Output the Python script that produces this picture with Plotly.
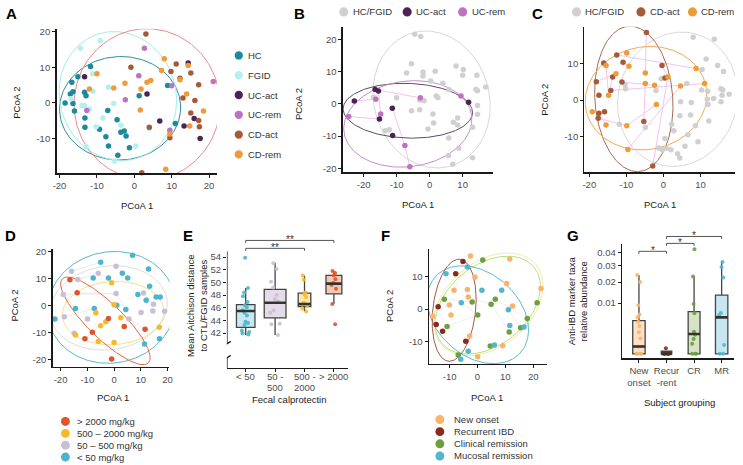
import numpy as np
import plotly.graph_objects as go

W, H = 743, 465
FONT = "Liberation Sans, Arial, Helvetica, sans-serif"
AX = "#1a1a1a"
TICKC = "#4d4d4d"

# ------------------------------------------------------------------ data
# Panel A (PCoA, all groups)
A_HC_x = [-18.5, -17.1, -16.4, -16.7, -15.1, -16.4, -16.0, -13.3, -12.9, -11.7, -13.2, -13.2, -7.1, -9.3, -7.6, -6.9, -4.6, -3.6, -2.7, -2.2, -1.3, -4.4, 1.3, 8.9, 11.0]
A_HC_y = [0.0, 2.5, 3.1, 5.8, 7.3, -0.2, -2.3, 3.0, 2.0, 10.2, -4.2, -6.8, -2.1, -7.4, -9.5, -12.1, -4.7, -8.2, -7.9, -9.3, -12.6, -14.7, 2.0, 4.9, -5.8]
A_FGID_x = [-14.4, -9.1, -11.1, -16.9, -14.0, -13.3, -12.0, -11.1, -6.9, -5.5, -8.4, -10.2, -3.6, -12.9, 0.4, -5.3, 4.0]
A_FGID_y = [15.3, 17.4, 8.2, 1.2, -0.7, -0.7, -1.7, 3.3, 4.4, -0.2, -4.2, -6.7, -6.3, -12.3, -12.1, -16.3, -7.2]
A_UCact_x = [-13.3, 3.4, 6.8, 14.4, 13.3, 16.0, 17.6]
A_UCact_y = [7.3, 2.5, -5.1, 11.2, -6.5, -4.4, -10.0]
A_UCrem_x = [2.7, 1.2, -2.4, -12.7, 10.0, 9.5, 21.1]
A_UCrem_y = [15.3, 7.6, 0.9, -2.1, 4.8, -7.7, 6.0]
A_CDact_x = [3.1, -0.9, 9.8, 11.2, 12.2, 15.1, 17.2, 16.2, 13.0, 15.1, 17.2, 17.4, 9.5, 4.0, 2.0]
A_CDact_y = [19.3, 10.0, 8.8, 10.9, 6.9, 8.4, 5.1, 0.7, 1.4, -2.8, -4.9, -6.7, -9.8, -6.8, -19.6]
A_CDrem_x = [8.0, 7.3, 12.2, 4.4, 3.4, -2.5, -5.5, -12.0, -10.0, 1.8, 14.0, 1.6, 18.5, 14.8, 9.5, 8.4, 14.4]
A_CDrem_y = [12.4, 9.1, 6.5, 6.3, 5.8, 5.5, 4.2, 3.9, 8.2, 3.9, 2.5, -2.0, -2.3, -6.5, -8.7, -18.6, 10.5]
A_groups = ["HC", "FGID", "UC-act", "UC-rem", "CD-act", "CD-rem"]
# ellipses: centre x, centre y, semi-axis a, semi-axis b, angle (deg)
A_ell = [(-3.8, -1.5, 16.2, 14.5, 4), (-4.4, 1.9, 15.6, 18.2, 12), (3.4, -0.4, 19.5, 21.2, 0)]

# Panel B (UC)
B_grey_x = [-4.5, -2.7, -5.5, -7, -2, -2, 1.7, 0.3, 8, 10.2, 10, 14.3, 14.5, 14, 17, 4, 5.8, 2, 2.5, -3, -1.7, -10, -17, -5.5, -3, 1, 14.5, 14.5, -13.5, -12.2, -0.5, 1.2, 7.2, 8.5, 8.5, 5.8, 13, 8.8, 5.7, 7, 13]
B_grey_y = [21.7, 21.0, 12.5, 9.6, 9.9, 8.7, 10.2, 7.1, 11.8, 10.7, 8.9, 8.9, 4.1, 4.5, 5.3, 6.4, 4.5, 2.5, 1.9, 1.2, 1.0, 1.9, 2.1, -2.1, -1.8, -3.1, -3.2, -0.5, -8.3, -8.0, -7.8, -5.9, -5.7, -4.4, -6.5, -10.6, -7.2, -13.8, -16, -18.7, -16.7]
B_UCact_x = [-22.8, -16.5, -15.5, -15.2, -11.3, -11.2, 11.8]
B_UCact_y = [0.9, 4.5, 4.0, -4.7, -1.3, -9.8, 0.5]
B_UCrem_x = [-24.5, -16.3, -14.8, -7.5, -6.0, -2.8, 9.5]
B_UCrem_y = [-3.9, 1.5, -3.1, -12.9, -19.5, 1.9, 2.5]
B_links = [((-22.8, 0.9), (-16.3, 1.5)), ((-24.5, -3.9), (-15.2, -4.7)), ((-16.5, 4.5), (-2.8, 1.9)),
           ((-11.3, -1.3), (-7.5, -12.9)), ((-7.5, -12.9), (-6.0, -19.5)), ((-15.5, 4.0), (-14.8, -3.1)),
           ((11.8, 0.5), (9.5, 2.5)), ((-16.3, 1.5), (-15.5, 4.0))]
B_ell = [(0.6, 1.4, 17.5, 21.5, 14), (-6.6, -2.1, 19.6, 8.5, -2), (-6.6, -6.2, 19.5, 13.3, 8)]

# Panel C (CD)
C_CDact_x = [-4.6, -12.6, -16.1, -10.9, -18.1, -13.7, -11.2, -14.2, -17.4, -17.4, -15.9, -17.6, -5.3, -0.4, 0.4, -2.9]
C_CDact_y = [18.4, 12.3, 10.1, 10.3, 5.0, 6.3, 4.9, 2.6, 1.3, -3.6, -3.2, -5.0, -5.9, 9.4, 6.0, -18.0]
C_CDrem_x = [-9.9, -15.5, -12.8, -9.3, -4.9, -4.9, -2.4, 1.2, 8.8, 11.1, 4.6, -14.8, -19.2, -15.5, -9.9, -1.9, -9.6]
C_CDrem_y = [12.8, 9.4, 7.2, 9.2, 7.4, 4.5, 4.0, 6.3, 8.6, 4.5, 3.8, 1.3, -3.2, -6.8, -7.0, -1.2, -13.5]
C_grey_x = [8, 13.7, 11.5, 14.6, 16.2, 10.4, 6.3, 10.3, 11.9, 15.5, 16, 15.8, 17.7, 13.5, 11.8, 12.0, 15.5, 4.6, 7.5, 4.4, 7.3, 8.6, 12.2, 2.2, 2.8, 6.6, 5.8, 3.8, 4.4, 0.4, -1.3, -0.3, 0.7, 2.0, 9.3, -11.9, -4.9, -10.4, -10.2, -2.0, -0.6]
C_grey_y = [17.1, 16.6, 11.2, 9.4, 7.8, 8.3, 4.5, 2.7, 2.4, 3.1, 2.7, 1.3, 1.6, 0.4, 0.2, -1.2, -0.5, -0.5, -0.7, -4.3, -4.1, -7.0, -5.7, -6.6, -8.4, -9.5, -12.6, -14.7, -15.8, -10.5, -13.1, -13.6, -13.2, -13.6, -11.4, -6.6, -7.5, 4.2, 3.1, 2.6, 5.8]
C_links = [((-4.6, 18.4), (-4.9, 7.4)), ((-4.9, 4.5), (-5.3, -5.9)), ((-12.6, 12.3), (8.8, 8.6)),
           ((-14.2, 2.6), (11.1, 4.5)), ((-2.9, -18.0), (1.2, 6.3)), ((-1.9, -1.2), (-9.9, -7.0)),
           ((-17.4, -3.6), (-15.5, -6.8)), ((4.6, 3.8), (-9.6, -13.5)), ((-11.2, 4.9), (-2.4, 4.0)),
           ((-0.4, 9.4), (1.2, 6.3)), ((-16.1, 10.1), (-15.5, 9.4)), ((-15.5, 9.4), (-14.8, 1.3)),
           ((-17.6, -5.0), (-9.9, -7.0)), ((-18.1, 5.0), (-12.8, 7.2)), ((-10.9, 10.3), (-9.3, 9.2)),
           ((-14.8, 1.3), (-13.7, 6.3))]
C_ell = [(3.8, 0.2, 16.0, 18.5, -15), (-8.0, 0.3, 10.5, 19.9, 4), (-4.7, 0.5, 16.5, 14.0, 12)]

# Panel D (calprotectin groups)
D_labels = ["> 2000 mg/kg", "500 \u2013 2000 mg/kg", "50 \u2013 500 mg/kg", "< 50 mg/kg"]
D_hi_x = [-16.5, -13.8, -2.1, -8.1, -10.9, 3.8, 11.6, -0.9]
D_hi_y = [9.4, 4.6, -4.9, -10, -12.4, -7.9, -8.9, -19.9]
D_mid_x = [-0.9, 0, -6.8, -5, -3.1, 2.5, -14.4, -5.9, 0, 16.9]
D_mid_y = [8.3, 0.2, -2.8, -7.6, -6.1, -4.6, -11, -13.4, -13.8, -8.2]
D_low_x = [-15.9, -13.6, -5.9, 0.75, -19, 0.75, -18.6, -9.9, 5.6, 11, 10.1, 14.75, 14.5, 18.9, -14.9]
D_low_y = [12.6, 9.5, 11.8, 14.4, 4, 4.3, -4.3, -5.1, -5.1, 4.5, -2.7, 0.4, -2.1, -2.2, -10.4]
D_vlow_x = [-5, 6.9, 12.9, -7.8, -2.1, 3.1, 5.1, 13.3, 8.9, 12.0, 15.75, 17.25, 1, 4.4, -14.4, -7.4, -22.1, 11.4, 17]
D_vlow_y = [15.9, 18.5, 13.4, 10.1, 10.1, 11.8, 10.1, 7.0, 4.0, 1.8, 3.0, 3.0, 0, -1.6, -1.2, -1.2, -5.1, -14.4, -12.4]
D_links = [((-13.8, 4.6), (0.75, 4.3)), ((0.75, 4.3), (4.4, -1.6)), ((-18.6, -4.3), (-7.4, -1.2)),
           ((-15.9, 12.6), (-5.0, 15.9)), ((5.6, -5.1), (11.6, -8.9)), ((-19, 4), (-14.4, -1.2)),
           ((0.75, 14.4), (3.1, 11.8)), ((-10.9, -12.4), (-2.1, -4.9)), ((11, 4.5), (14.75, 0.4)),
           ((-13.6, 9.5), (-5.9, 11.8)), ((-9.9, -5.1), (-6.8, -2.8)), ((-19, 4), (0.75, 4.3))]
D_ell = [(-1.0, -0.8, 24.0, 20.6, 10), (-2.0, -1.0, 22.0, 15.5, 8), (-0.35, -2.9, 19.0, 11.7, 3), (-3.25, -5.8, 22.4, 6.5, -44)]

# Panel E (boxplots, mean Aitchison distance)
E_cats = ["&lt; 50", "50 -<br>500", "500 -<br>2000", "&gt; 2000"]
E_q1 = [42.9, 44.4, 46.2, 48.2]
E_med = [45.5, 46.8, 46.6, 49.8]
E_q3 = [46.5, 48.9, 48.3, 51.1]
E_lo = [41.7, 41.7, 45.4, 46.6]
E_hi = [49.1, 53.1, 51.1, 51.8]
E_width = [0.63, 0.74, 0.43, 0.54]
E_pts = [
    [53.9, 49.1, 48.4, 47.8, 46.9, 46.4, 46.1, 45.6, 45.2, 44.8, 43.8, 43.6, 43.3, 42.4, 42.2, 42.0, 41.8],
    [53.0, 52.1, 50.1, 49.2, 48.0, 47.4, 47.0, 45.6, 45.2, 43.5, 43.4, 41.7],
    [51.1, 50.4, 48.4, 48.1, 47.7, 46.8, 46.5, 46.3, 45.9, 45.4],
    [51.8, 51.5, 51.1, 50.5, 49.9, 49.6, 49.0, 46.6, 43.4],
]

# Panel F (disease course)
F_labels = ["New onset", "Recurrent IBD", "Clinical remission", "Mucosal remission"]
F_new_x = [-2.5, 11.6, -0.9, -8.4, -3.6, -3.3, -10.1, -9.5, -16, 10.5, 12.6, 22.8, -2.8, 9.1, 0.1]
F_new_y = [16.5, 15.6, 9.9, 5.9, 6.1, 3.8, 1.3, -1.8, -2.2, 8.0, 1.0, 6.4, -8.4, -11.4, -14.8]
F_rec_x = [-5.2, -7.8, -14.1, -14.8, -12.5, -4.2]
F_rec_y = [14.8, 11.0, 0.7, -4.8, -6.9, -10]
F_cr_x = [1.9, -11.9, -1.9, 0.1, 6.4, 4.9, -10.9, 11.4, 15.5, 17.9, 21.4, 4.6, -6.9]
F_cr_y = [15.3, 3.1, 2.2, -1.8, 3.1, 1.5, -5.4, -7.1, -5.8, -2.9, 2.0, -11.5, -14.3]
F_mr_x = [-3.6, -11.3, 1.6, 8.7, -5.8, 11.1, 11.6, 16.7, 6.1, -3.3, -6]
F_mr_y = [13.1, 11.0, 5.9, 5.9, 2.0, -0.2, -5.1, -5.6, -11.2, -13.1, -15.6]
F_links = [((-2.5, 16.5), (-8.4, 5.9)), ((1.9, 15.3), (-0.9, 9.9)), ((-11.9, 3.1), (-1.9, 2.2)),
           ((6.4, 3.1), (17.9, -2.9)), ((4.9, 1.5), (11.4, -7.1)), ((-10.9, -5.4), (0.1, -1.8)),
           ((8.7, 5.9), (10.5, 8.0)), ((-3.3, 3.8), (4.9, 1.5)), ((-16, -2.2), (-14.1, 0.7)),
           ((-5.8, 2.0), (0.1, -1.8)), ((11.1, -0.2), (15.5, -5.8))]
F_ell = [(3.9, 1.5, 21.2, 13.8, 30), (3.7, 1.25, 20.5, 13.0, 30), (0.15, -1.75, 19.5, 13.5, -30), (-8.35, -0.35, 7.65, 16.0, -8)]

# Panel G (anti-IBD marker taxa, sqrt scale)
G_cats = ["New<br>onset", "Recur<br>-rent", "CR", "MR"]
G_q1 = [0.0, 0.0, 0.0, 0.0]
G_med = [0.00021, 0.0, 0.00154, 0.00517]
G_q3 = [0.00427, 0.00003, 0.00689, 0.01338]
G_lo = [0.0, 0.0, 0.0, 0.0]
G_hi = [0.0242, 0.00003, 0.0232, 0.0335]
G_width = [0.45, 0.38, 0.43, 0.45]
G_pts = [
    [0.0242, 0.0200, 0.0092, 0.0060, 0.0052, 0.0040, 0.0030, 0.0018, 0.0009, 0.0002, 0, 0, 0, 0],
    [0.00012, 0, 0, 0, 0],
    [0.0424, 0.0232, 0.0096, 0.0064, 0.0019, 0.0014, 0.00086, 0.0004, 0, 0, 0],
    [0.0328, 0.0293, 0.0226, 0.0065, 0.0058, 0.0003, 0, 0],
]
G_ticks = [0.01, 0.02, 0.03, 0.04]

# ------------------------------------------------------------------ styles
C_HC, C_FGID, C_UCA, C_UCR, C_CDA, C_CDR = "#1b8a9b", "#b4f0f0", "#4b2454", "#bd72c2", "#a65a3a", "#ef9c38"
C_GREY = "#d0d0d0"
D_cols = ["#e0542c", "#f7b928", "#c9bfd4", "#4ab5cc"]
E_fill = ["#c8e8ef", "#e4dde9", "#fde6ae", "#f6c7b5"]
F_cols = ["#f9b36b", "#8b2a1a", "#6e9e3e", "#53b5cf"]
G_fill = ["#fde1c6", "#8b2a1a", "#d5e4c4", "#c7e6ef"]

fig = go.Figure()


def fx(p):
    return p / W


def fy(p):
    return 1 - p / H


def fmt(v):
    return str(int(v)) if float(v).is_integer() else str(v)


AXCOMMON = dict(showline=True, linecolor=AX, linewidth=1.4, ticks="outside", ticklen=3, tickwidth=1,
                tickcolor=AX, showgrid=False, zeroline=False, fixedrange=True,
                tickfont=dict(size=9.5, color=TICKC, family=FONT), tickmode="array")


def add_axes(n, xpx, ypx, xr, yr, xt, yt, xtt=None, ytt=None, yline=True, xlabels=True):
    s = "" if n == 1 else str(n)
    xa = dict(AXCOMMON, domain=[fx(xpx[0]), fx(xpx[1])], range=list(xr), anchor="y" + s,
              tickvals=xt, ticktext=xtt if xtt else [fmt(v) for v in xt], showticklabels=xlabels)
    ya = dict(AXCOMMON, domain=[fy(ypx[1]), fy(ypx[0])], range=list(yr), anchor="x" + s,
              tickvals=yt, ticktext=ytt if ytt else [fmt(v) for v in yt])
    ya["showline"] = yline
    fig.update_layout(**{"xaxis" + s: xa, "yaxis" + s: ya})


def ref(n):
    s = "" if n == 1 else str(n)
    return dict(xaxis="x" + s, yaxis="y" + s)


def pts(n, x, y, color, size=5.5):
    fig.add_trace(go.Scatter(x=x, y=y, mode="markers", marker=dict(size=size, color=color, line=dict(width=0)),
                             cliponaxis=False, showlegend=False, hoverinfo="skip", **ref(n)))


def ellipse(n, params, color, width=1.0):
    cx, cy, a, b, ang = params
    t = np.linspace(0, 2 * np.pi, 200)
    th = np.deg2rad(ang)
    x = cx + a * np.cos(t) * np.cos(th) - b * np.sin(t) * np.sin(th)
    y = cy + a * np.cos(t) * np.sin(th) + b * np.sin(t) * np.cos(th)
    fig.add_trace(go.Scatter(x=x, y=y, mode="lines", line=dict(color=color, width=width),
                             showlegend=False, hoverinfo="skip", **ref(n)))


def links(n, pairs, color, width=1.0):
    xs, ys = [], []
    for (a, b) in pairs:
        xs += [a[0], b[0], None]
        ys += [a[1], b[1], None]
    fig.add_trace(go.Scatter(x=xs, y=ys, mode="lines", line=dict(color=color, width=width),
                             showlegend=False, hoverinfo="skip", **ref(n)))


annots = []
shapes = []


def text(x, y, s, size=9.5, color="#1a1a1a", anchor="center", angle=0, bold=False):
    annots.append(dict(x=fx(x), y=fy(y), xref="paper", yref="paper", text=("<b>%s</b>" % s) if bold else s,
                       showarrow=False, xanchor=anchor, yanchor="middle", textangle=angle,
                       font=dict(size=size, color=color, family=FONT)))


def legend_dot(cx, cy, color, r=4.2):
    shapes.append(dict(type="circle", xref="paper", yref="paper", x0=fx(cx - r), x1=fx(cx + r),
                       y0=fy(cy + r), y1=fy(cy - r), fillcolor=color, line=dict(width=0)))


def bracket(n, x0, x1, ypx, stars, drop=2.5):
    s = "" if n == 1 else str(n)
    for (a, b, c, d) in [(x0, ypx, x1, ypx), (x0, ypx, x0, ypx + drop), (x1, ypx, x1, ypx + drop)]:
        shapes.append(dict(type="line", xref="x" + s, yref="paper", x0=a, x1=c, y0=fy(b), y1=fy(d),
                           line=dict(color="#555555", width=1)))
    annots.append(dict(x=(x0 + x1) / 2, y=fy(ypx - 1), xref="x" + s, yref="paper", text=stars, showarrow=False,
                       xanchor="center", yanchor="middle", font=dict(size=10, color="#333333", family=FONT)))


# ------------------------------------------------------------------ axes
add_axes(1, (53, 215), (25, 171), (-20.8, 22.1), (-19.7, 20.8), [-20, -10, 0, 10, 20], [-10, 0, 10, 20])
add_axes(2, (342, 494), (23, 170), (-26.3, 19.3), (-21.2, 24.0), [-20, -10, 0, 10], [-20, -10, 0, 10, 20])
add_axes(3, (586, 738), (23, 170), (-21.3, 19.3), (-19.7, 20.0), [-20, -10, 0, 10], [-10, 0, 10])
add_axes(4, (49, 167), (248, 367), (-23.0, 20.7), (-22.9, 20.7), [-20, -10, 0, 10, 20], [-20, -10, 0, 10, 20])
E_xr, E_yr = (-0.64, 3.47), (36.5, 54.9)
add_axes(5, (225, 347), (250, 368), E_xr, E_yr, [0, 1, 2, 3], [42, 44, 46, 48, 50, 52, 54], xtt=E_cats,
         yline=False, xlabels=False)
add_axes(6, (429, 548), (248, 364), (-17.4, 24.9), (-17.1, 18.6), [-10, 0, 10, 20], [-10, 0, 10])
G_xr, G_yr = (-0.61, 3.45), (-0.0085, 0.2157)
add_axes(7, (624, 737), (243, 358), G_xr, G_yr, [0, 1, 2, 3], list(np.sqrt(G_ticks)), xtt=G_cats,
         ytt=[str(v) for v in G_ticks])

# ------------------------------------------------------------------ panel A
for p, c in zip(A_ell, ["#2a8fa0", "#a5eaea", "#e98a8a"]):
    ellipse(1, p, c)
for x, y, c in [(A_HC_x, A_HC_y, C_HC), (A_FGID_x, A_FGID_y, C_FGID), (A_UCact_x, A_UCact_y, C_UCA),
                (A_UCrem_x, A_UCrem_y, C_UCR), (A_CDact_x, A_CDact_y, C_CDA), (A_CDrem_x, A_CDrem_y, C_CDR)]:
    pts(1, x, y, c)

# ------------------------------------------------------------------ panel B
links(2, B_links, "#f3c3f3")
for p, c in zip(B_ell, ["#d8d8d8", "#5d4a66", "#c98acb"]):
    ellipse(2, p, c)
pts(2, B_grey_x, B_grey_y, C_GREY)
pts(2, B_UCrem_x, B_UCrem_y, C_UCR)
pts(2, B_UCact_x, B_UCact_y, C_UCA)

# ------------------------------------------------------------------ panel C
links(3, C_links, "#f3c3f3")
for p, c in zip(C_ell, ["#d8d8d8", "#a66a52", "#f0a850"]):
    ellipse(3, p, c)
pts(3, C_grey_x, C_grey_y, C_GREY)
pts(3, C_CDact_x, C_CDact_y, C_CDA)
pts(3, C_CDrem_x, C_CDrem_y, C_CDR)

# ------------------------------------------------------------------ panel D
links(4, D_links, "#e6e6e6", 0.8)
for p, c in zip(D_ell, ["#5bb5cc", "#dddddd", "#f8e08a", "#e06a48"]):
    ellipse(4, p, c)
for x, y, c in [(D_vlow_x, D_vlow_y, D_cols[3]), (D_low_x, D_low_y, D_cols[2]),
                (D_mid_x, D_mid_y, D_cols[1]), (D_hi_x, D_hi_y, D_cols[0])]:
    pts(4, x, y, c)

# ------------------------------------------------------------------ panel E
E_ptcols = [D_cols[3], D_cols[2], D_cols[1], D_cols[0]]
for i in range(4):
    fig.add_trace(go.Box(x=[i], q1=[E_q1[i]], median=[E_med[i]], q3=[E_q3[i]], lowerfence=[E_lo[i]],
                         upperfence=[E_hi[i]], width=E_width[i], fillcolor=E_fill[i], whiskerwidth=0,
                         line=dict(color="#444444", width=1.3), boxpoints=False, showlegend=False,
                         hoverinfo="skip", **ref(5)))
    fig.add_trace(go.Scatter(x=[i - E_width[i] / 2, i + E_width[i] / 2], y=[E_med[i], E_med[i]], mode="lines",
                             line=dict(color="#333333", width=2.6), showlegend=False, hoverinfo="skip", **ref(5)))
    fig.add_trace(go.Box(x=[i] * len(E_pts[i]), y=E_pts[i], boxpoints="all", jitter=0.55, pointpos=0,
                         width=E_width[i], fillcolor="rgba(0,0,0,0)", line=dict(color="rgba(0,0,0,0)", width=0),
                         marker=dict(size=4, color=E_ptcols[i], opacity=0.9), showlegend=False,
                         hoverinfo="skip", **ref(5)))
# category labels of E (tight line spacing as in the reference)
for i, lab in enumerate(E_cats):
    for k, line in enumerate(lab.split("<br>")):
        annots.append(dict(x=i, y=fy(377 + 10.5 * k), xref="x5", yref="paper", text=line, showarrow=False,
                           xanchor="center", yanchor="middle", font=dict(size=9.5, color=TICKC, family=FONT)))

# broken y axis line for E
E_ybreak_hi, E_ybreak_lo = 40.3, 38.1
for (y0, y1) in [(E_yr[1], E_ybreak_hi), (E_ybreak_lo, E_yr[0])]:
    shapes.append(dict(type="line", xref="x5", yref="y5", x0=E_xr[0], x1=E_xr[0], y0=y0, y1=y1,
                       line=dict(color=AX, width=1.4)))
for yb in [E_ybreak_hi, E_ybreak_lo]:
    shapes.append(dict(type="line", xref="x5", yref="y5", x0=E_xr[0] - 0.13, x1=E_xr[0] + 0.13,
                       y0=yb - 0.4, y1=yb + 0.4, line=dict(color=AX, width=1.4)))
bracket(5, 0, 2, 247, "**")
bracket(5, 0, 3, 239, "**")

# ------------------------------------------------------------------ panel F
links(6, F_links, "#eaeaea", 0.8)
for p, c in zip(F_ell, ["#f2eaa5", "#b5e27a", "#5bb8d0", "#a35a48"]):
    ellipse(6, p, c)
for x, y, c in [(F_new_x, F_new_y, F_cols[0]), (F_rec_x, F_rec_y, F_cols[1]),
                (F_cr_x, F_cr_y, F_cols[2]), (F_mr_x, F_mr_y, F_cols[3])]:
    pts(6, x, y, c)

# ------------------------------------------------------------------ panel G
for i in range(4):
    fig.add_trace(go.Box(x=[i], q1=[np.sqrt(G_q1[i])], median=[np.sqrt(G_med[i])], q3=[np.sqrt(G_q3[i])],
                         lowerfence=[np.sqrt(G_lo[i])], upperfence=[np.sqrt(G_hi[i])], width=G_width[i],
                         fillcolor=G_fill[i], whiskerwidth=0, line=dict(color="#444444", width=1.3),
                         boxpoints=False, showlegend=False, hoverinfo="skip", **ref(7)))
    fig.add_trace(go.Scatter(x=[i - G_width[i] / 2, i + G_width[i] / 2],
                             y=[np.sqrt(G_med[i]), np.sqrt(G_med[i])], mode="lines",
                             line=dict(color="#333333", width=2.6), showlegend=False, hoverinfo="skip", **ref(7)))
    fig.add_trace(go.Box(x=[i] * len(G_pts[i]), y=list(np.sqrt(G_pts[i])), boxpoints="all", jitter=0.5,
                         pointpos=0, width=G_width[i], fillcolor="rgba(0,0,0,0)",
                         line=dict(color="rgba(0,0,0,0)", width=0),
                         marker=dict(size=4, color=F_cols[i], opacity=0.9), showlegend=False,
                         hoverinfo="skip", **ref(7)))
bracket(7, 0, 1, 250, "*")
bracket(7, 1, 2, 242, "*")
bracket(7, 1, 3, 235, "*")

# ------------------------------------------------------------------ titles / letters
for (x, y, s) in [(8, 10, "A"), (298, 10, "B"), (539, 10, "C"), (7, 234, "D"), (186, 234, "E"),
                  (385, 234, "F"), (574, 234, "G")]:
    text(x, y, s, size=15, color="#000000", bold=True)

text(134, 204, "PCoA 1"); text(13, 100, "PCoA 2", angle=-90)
text(418, 203, "PCoA 1"); text(298, 101, "PCoA 2", angle=-90)
text(662, 203, "PCoA 1"); text(546, 97, "PCoA 2", angle=-90)
text(110, 398, "PCoA 1"); text(11, 305, "PCoA 2", angle=-90)
text(488, 398, "PCoA 1"); text(389, 305, "PCoA 2", angle=-90)
text(288, 400, "Fecal calprotectin")
text(195, 305, "Mean Aitchison distance<br>to CTL/FGID samples", angle=-90)
text(682, 403, "Subject grouping")
text(579, 300, "Anti-IBD marker taxa<br>relative abundance", angle=-90)

# ------------------------------------------------------------------ legends
A_cols = [C_HC, C_FGID, C_UCA, C_UCR, C_CDA, C_CDR]
for k, (lab, c) in enumerate(zip(A_groups, A_cols)):
    yy = 52 + 20 * k
    legend_dot(237, yy, c)
    text(244, yy, lab, color="#333333", anchor="left")

for (dx, lab, c) in [(343, "HC/FGID", C_GREY), (407, "UC-act", C_UCA), (463, "UC-rem", C_UCR)]:
    legend_dot(dx, 8, c, 4.6)
    text(dx + 7, 8, lab, color="#333333", anchor="left")
for (dx, lab, c) in [(578, "HC/FGID", C_GREY), (643, "CD-act", C_CDA), (695, "CD-rem", C_CDR)]:
    legend_dot(dx, 8, c, 4.6)
    text(dx + 7, 8, lab, color="#333333", anchor="left")

for k, (lab, c) in enumerate(zip(D_labels, D_cols)):
    yy = 422 + 12 * k
    legend_dot(62, yy, c, 4.5)
    text(72, yy, lab.replace("<", "&lt;").replace(">", "&gt;"), color="#333333", anchor="left")
for k, (lab, c) in enumerate(zip(F_labels, F_cols)):
    yy = 420 + 12.3 * k
    legend_dot(440, yy, c, 4.5)
    text(452, yy, lab, color="#333333", anchor="left")

fig.update_layout(width=W, height=H, margin=dict(l=0, r=0, t=0, b=0), autosize=False,
                  paper_bgcolor="white", plot_bgcolor="white", showlegend=False,
                  font=dict(family=FONT, size=9.5, color="#333333"),
                  annotations=annots, shapes=shapes, boxmode="overlay")

fig.write_html("out.html", config={"displayModeBar": False, "staticPlot": True},
               post_script="document.body.style.margin='0';document.body.style.overflow='hidden';")
